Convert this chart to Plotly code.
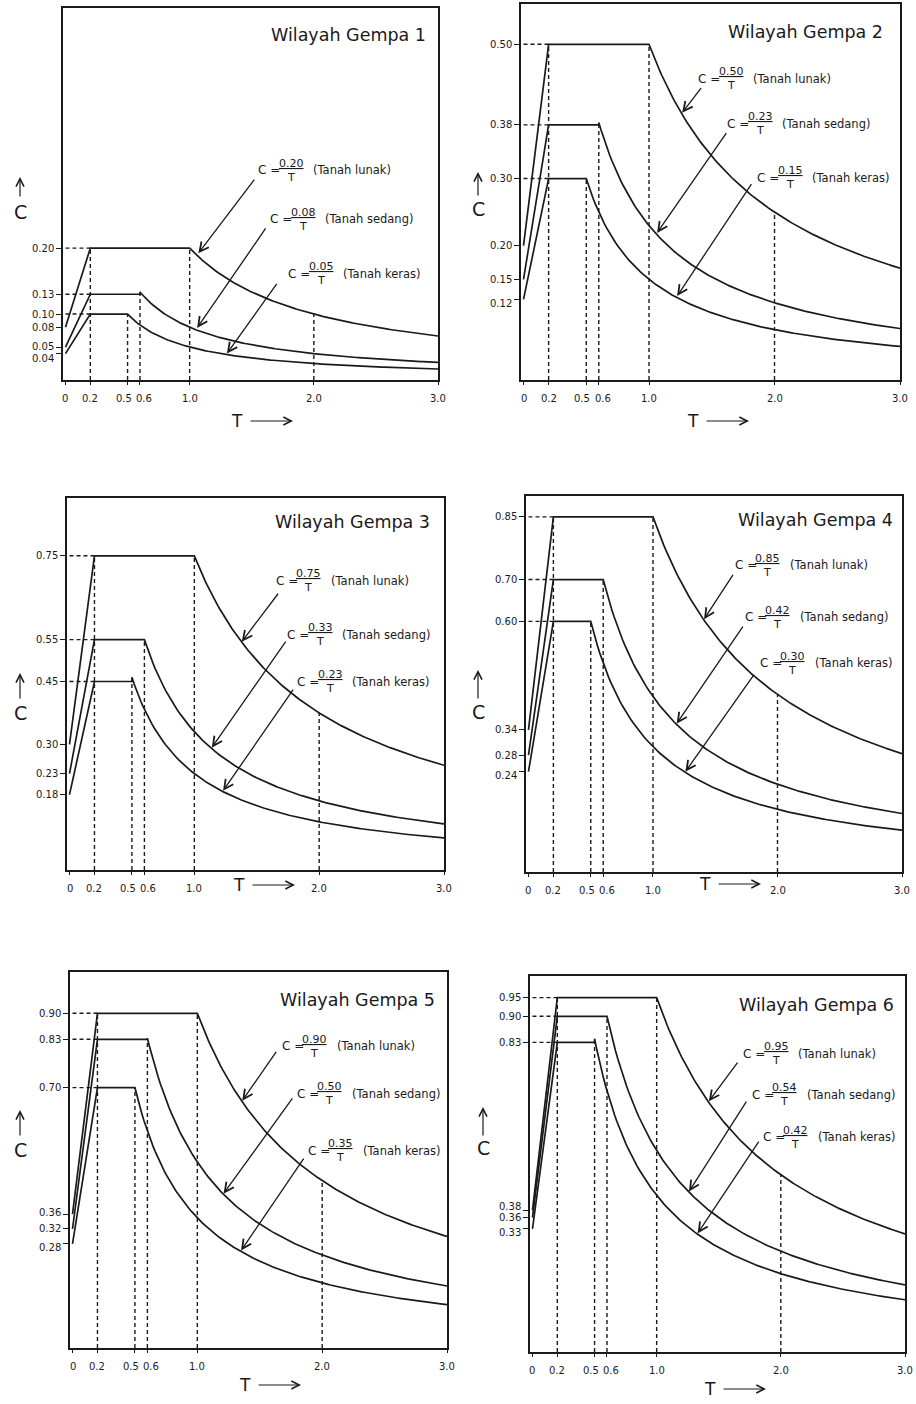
import numpy as np
import plotly.graph_objects as go

# ---------------- data ----------------
ZONE_TITLES = ["Wilayah Gempa 1", "Wilayah Gempa 2", "Wilayah Gempa 3",
               "Wilayah Gempa 4", "Wilayah Gempa 5", "Wilayah Gempa 6"]
SOIL_NAMES = ["Tanah lunak", "Tanah sedang", "Tanah keras"]

A0_LUNAK = [0.08, 0.20, 0.30, 0.34, 0.36, 0.38]
A0_SEDANG = [0.05, 0.15, 0.23, 0.28, 0.32, 0.36]
A0_KERAS = [0.04, 0.12, 0.18, 0.24, 0.28, 0.33]
AM_LUNAK = [0.20, 0.50, 0.75, 0.85, 0.90, 0.95]
AM_SEDANG = [0.13, 0.38, 0.55, 0.70, 0.83, 0.90]
AM_KERAS = [0.10, 0.30, 0.45, 0.60, 0.70, 0.83]
AR_LUNAK = [0.20, 0.50, 0.75, 0.85, 0.90, 0.95]
AR_SEDANG = [0.08, 0.23, 0.33, 0.42, 0.50, 0.54]
AR_KERAS = [0.05, 0.15, 0.23, 0.30, 0.35, 0.42]
TC_SOIL = [1.0, 0.6, 0.5]      # corner period: lunak, sedang, keras
T_RISE = 0.2
T_MARK = 2.0
T_MAX = 3.0
X_TICK_VALS = [0, 0.2, 0.5, 0.6, 1.0, 2.0, 3.0]
X_TICK_TEXT = ["0", "0.2", "0.5", "0.6", "1.0", "2.0", "3.0"]

# ---------------- layout / style ----------------
W, H = 916, 1404
FONT = "DejaVu Sans"
INK = "#1a1a1a"
PANEL_PX = [(63, 438, 8, 380), (521, 900, 4, 380), (67, 444, 498, 870),
            (526, 902, 496, 872), (70, 447, 972, 1348), (530, 905, 976, 1352)]
Y_MAX = [0.564, 0.56, 0.888, 0.90, 1.011, 1.008]
LABEL_AT = [
    [(1.537, 0.318), (1.633, 0.244), (1.778, 0.161)],
    [(1.376, 0.449), (1.608, 0.382), (1.848, 0.301)],
    [(1.635, 0.690), (1.730, 0.561), (1.810, 0.449)],
    [(1.640, 0.734), (1.720, 0.610), (1.840, 0.500)],
    [(1.660, 0.812), (1.780, 0.683), (1.870, 0.530)],
    [(1.680, 0.800), (1.750, 0.690), (1.840, 0.576)],
]
ARROWS = [
    [(1.53, 0.306, 1.07, 0.192), (1.62, 0.232, 1.06, 0.079), (1.71, 0.148, 1.30, 0.040)],
    [(1.424, 0.437, 1.264, 0.398), (1.624, 0.37, 1.064, 0.219), (1.824, 0.294, 1.224, 0.125)],
    [(1.68, 0.663, 1.38, 0.545), (1.74, 0.549, 1.14, 0.292), (1.80, 0.434, 1.23, 0.189)],
    [(1.65, 0.715, 1.41, 0.605), (1.73, 0.591, 1.19, 0.355), (1.82, 0.476, 1.26, 0.240)],
    [(1.64, 0.80, 1.36, 0.665), (1.77, 0.675, 1.21, 0.415), (1.86, 0.513, 1.35, 0.262)],
    [(1.66, 0.78, 1.42, 0.672), (1.73, 0.675, 1.26, 0.430), (1.83, 0.568, 1.33, 0.318)],
]
YTICK_NUDGE = [{0.04: -5, 0.05: 1}, {0.12: -4}, {}, {0.24: -4},
               {0.36: 2, 0.28: -4}, {0.38: 4, 0.33: -4}]
XTICK_NUDGE = {0.5: -4, 0.6: 4}
C_LABEL_PX = [(20, 212, 177, 198), (478, 209, 172, 197), (20, 713, 673, 700),
              (478, 712, 670, 700), (20, 1150, 1110, 1137), (483, 1148, 1107, 1137)]
T_LABEL_PX = [(237, 421), (693, 421), (239, 885), (705, 884), (245, 1385), (710, 1389)]
TITLE_PX = [(428, 35), (885, 32), (432, 522), (895, 520), (437, 1000), (896, 1005)]


def px(x):
    return x / W


def py(y):
    return 1 - y / H


fig = go.Figure()
annotations = []
layout_axes = {}

for i in range(6):
    sfx = "" if i == 0 else str(i + 1)
    xa, ya = "x" + sfx, "y" + sfx
    a0 = [A0_LUNAK[i], A0_SEDANG[i], A0_KERAS[i]]
    am = [AM_LUNAK[i], AM_SEDANG[i], AM_KERAS[i]]
    ar = [AR_LUNAK[i], AR_SEDANG[i], AR_KERAS[i]]

    # dashed guide lines
    dx, dy = [], []
    for j in range(3):
        dx += [0, T_RISE, None]
        dy += [am[j], am[j], None]
    dx += [T_RISE, T_RISE, None]
    dy += [0, am[0], None]
    for j in range(3):
        dx += [TC_SOIL[j], TC_SOIL[j], None]
        dy += [0, am[j], None]
    dx += [T_MARK, T_MARK]
    dy += [0, ar[0] / T_MARK]
    fig.add_trace(go.Scatter(x=dx, y=dy, mode="lines", xaxis=xa, yaxis=ya,
                             line=dict(color=INK, width=1.4, dash="4px,3px"),
                             hoverinfo="skip", showlegend=False))

    # spectrum curves
    for j in range(3):
        tc = TC_SOIL[j]
        tt = np.linspace(tc, T_MAX, 140)
        xs = [0, T_RISE, tc] + list(tt)
        ys = [a0[j], am[j], am[j]] + list(ar[j] / tt)
        fig.add_trace(go.Scatter(x=xs, y=ys, mode="lines", xaxis=xa, yaxis=ya,
                                 line=dict(color=INK, width=1.7),
                                 name=SOIL_NAMES[j], showlegend=False))

    x0, x1, y0, y1 = PANEL_PX[i]
    ytv = sorted(set(am + a0))
    layout_axes["xaxis" + sfx] = dict(
        domain=[px(x0), px(x1)], range=[-0.02, T_MAX], anchor=ya,
        showline=True, mirror=True, linecolor=INK, linewidth=1.7,
        ticks="outside", tickvals=X_TICK_VALS, ticklen=3, tickcolor=INK,
        showticklabels=False, showgrid=False, zeroline=False, fixedrange=True)
    layout_axes["yaxis" + sfx] = dict(
        domain=[py(y1), py(y0)], range=[0, Y_MAX[i]], anchor=xa,
        showline=True, mirror=True, linecolor=INK, linewidth=1.7,
        ticks="outside", tickvals=ytv, ticklen=5, tickcolor=INK,
        showticklabels=False, showgrid=False, zeroline=False, fixedrange=True)

    # y tick labels
    for v in ytv:
        annotations.append(dict(
            xref=xa + " domain", x=0, yref=ya, y=v, text=f"{v:.2f}",
            xanchor="right", yanchor="middle", xshift=-7,
            yshift=YTICK_NUDGE[i].get(round(v, 2), 0), showarrow=False,
            font=dict(family=FONT, size=10, color=INK)))
    # x tick labels
    for v, t in zip(X_TICK_VALS, X_TICK_TEXT):
        annotations.append(dict(
            xref=xa, x=v, yref=ya + " domain", y=0, text=t,
            xanchor="center", yanchor="top", yshift=-11,
            xshift=XTICK_NUDGE.get(v, 0), showarrow=False,
            font=dict(family=FONT, size=10, color=INK)))

    # panel title
    tx, ty = TITLE_PX[i]
    annotations.append(dict(xref="paper", yref="paper", x=px(tx), y=py(ty),
                            text=ZONE_TITLES[i], xanchor="right", yanchor="middle",
                            showarrow=False, font=dict(family=FONT, size=17.5, color=INK)))

    # equation labels with arrows
    for j in range(3):
        lt, lc = LABEL_AT[i][j]
        f = dict(family=FONT, size=11, color=INK)
        annotations.append(dict(xref=xa, yref=ya, x=lt, y=lc, text="C =",
                                xanchor="left", yanchor="middle", showarrow=False,
                                font=dict(family=FONT, size=12, color=INK)))
        annotations.append(dict(xref=xa, yref=ya, x=lt, y=lc, xshift=35,
                                text=f"<u>{ar[j]:.2f}</u><br>T", align="center",
                                xanchor="center", yanchor="middle", showarrow=False,
                                font=f))
        annotations.append(dict(xref=xa, yref=ya, x=lt, y=lc, xshift=55,
                                text=f"({SOIL_NAMES[j]})", xanchor="left",
                                yanchor="middle", showarrow=False,
                                font=dict(family=FONT, size=11.5, color=INK)))
        tT, tC, hT, hC = ARROWS[i][j]
        annotations.append(dict(xref=xa, yref=ya, x=hT, y=hC, axref=xa, ayref=ya,
                                ax=tT, ay=tC, text="", showarrow=True,
                                arrowhead=5, arrowsize=1.4, arrowwidth=1.3,
                                arrowcolor=INK, standoff=0, startstandoff=0))

    # axis labels: up-arrow C and T right-arrow
    cx, cy, atop, abot = C_LABEL_PX[i]
    annotations.append(dict(xref="paper", yref="paper", x=px(cx), y=py(cy), text="C",
                            xanchor="center", yanchor="middle", showarrow=False,
                            font=dict(family=FONT, size=19, color=INK)))
    annotations.append(dict(xref="paper", yref="paper", x=px(cx), y=py(atop), text="",
                            ax=0, ay=abot - atop, showarrow=True, arrowhead=5,
                            arrowsize=1.3, arrowwidth=1.2, arrowcolor=INK, standoff=0))
    tx2, ty2 = T_LABEL_PX[i]
    annotations.append(dict(xref="paper", yref="paper", x=px(tx2), y=py(ty2), text="T",
                            xanchor="center", yanchor="middle", showarrow=False,
                            font=dict(family=FONT, size=17, color=INK)))
    annotations.append(dict(xref="paper", yref="paper", x=px(tx2 + 56), y=py(ty2), text="",
                            ax=-44, ay=0, showarrow=True, arrowhead=5,
                            arrowsize=1.3, arrowwidth=1.2, arrowcolor=INK, standoff=0))

fig.update_layout(
    width=W, height=H, margin=dict(l=0, r=0, t=0, b=0),
    paper_bgcolor="white", plot_bgcolor="white", showlegend=False,
    annotations=annotations, **layout_axes)

fig.write_html(
    "out.html",
    config={"displayModeBar": False},
    post_script="document.body.style.margin='0';document.body.style.overflow='hidden';")
